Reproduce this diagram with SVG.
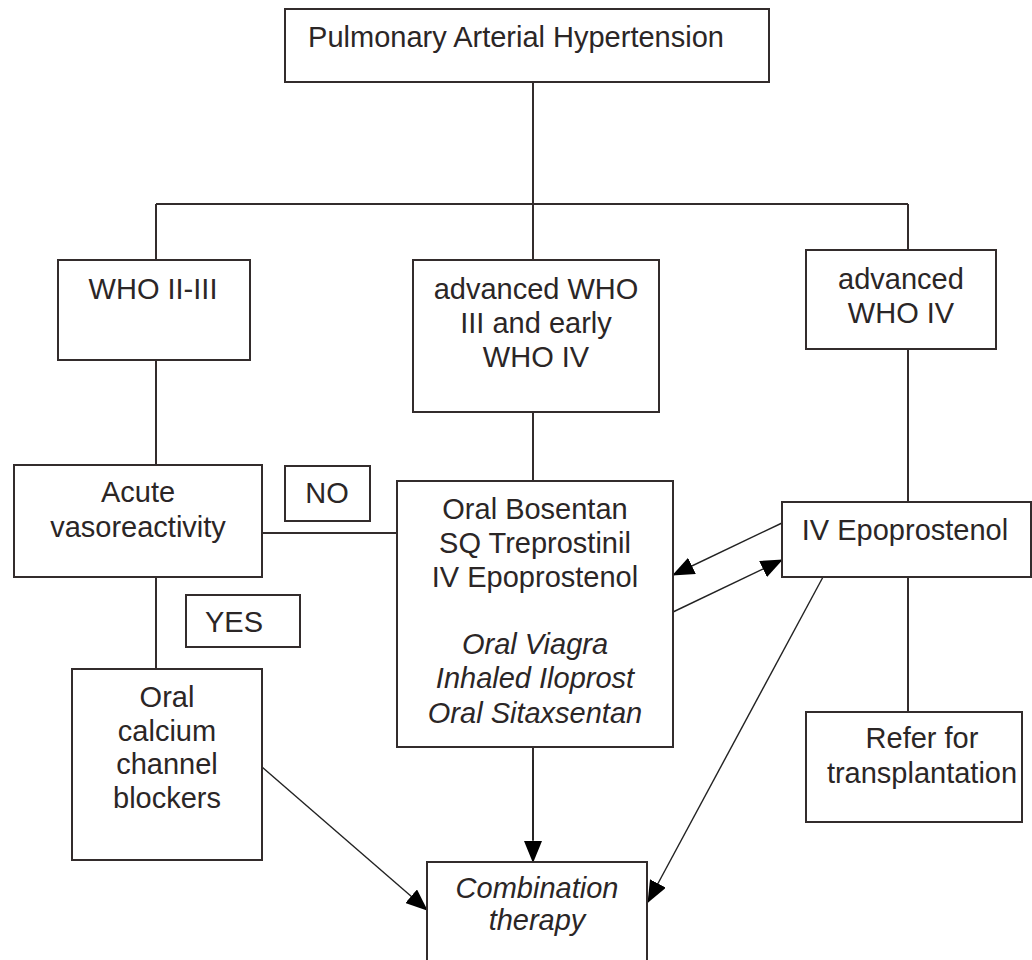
<svg xmlns="http://www.w3.org/2000/svg" width="1032" height="960" viewBox="0 0 1032 960">
<defs>
<style>
.box{fill:#fff;stroke:#332c2c;stroke-width:2}
.ln{fill:none;stroke:#332c2c;stroke-width:2}
.ar{fill:none;stroke:#222;stroke-width:1.4}
text{font-family:"Liberation Sans",Arial,sans-serif;font-size:29px;fill:#2b2626;text-anchor:middle}
.it{font-style:italic}
</style>
<marker id="ah" markerUnits="userSpaceOnUse" markerWidth="22" markerHeight="18" viewBox="0 0 22 18" refX="21" refY="9" orient="auto">
<path d="M0,0 L22,9 L0,18 Z" fill="#000"/>
</marker>
</defs>
<rect width="1032" height="960" fill="#fff"/>
<g id="connectors">
<path class="ln" d="M533,82 V204 M156,204 H908 M156,204 V260 M533,204 V260 M908,204 V250"/>
<path class="ln" d="M156,360 V465 M533,412 V481 M908,349 V502"/>
<path class="ln" d="M262,533 H397 M156,577 V669 M908,577 V712"/>
<path class="ln" d="M533,747 V840" />
<path class="ar" d="M533,760 V862" marker-end="url(#ah)"/>
<path class="ar" d="M782,523 L673,575" marker-end="url(#ah)"/>
<path class="ar" d="M673,612 L782,560" marker-end="url(#ah)"/>
<path class="ar" d="M262,767 L427,910" marker-end="url(#ah)"/>
<path class="ar" d="M823,577 L648,902" marker-end="url(#ah)"/>
</g>
<g id="n-pah"><rect class="box" x="285" y="9" width="484" height="73"/><text x="516" y="47">Pulmonary Arterial Hypertension</text></g>
<g id="n-who23"><rect class="box" x="58" y="260" width="192" height="100"/><text x="153" y="299">WHO II-III</text></g>
<g id="n-who34"><rect class="box" x="413" y="260" width="246" height="152"/><text x="536" y="299">advanced WHO</text><text x="536" y="333">III and early</text><text x="536" y="367">WHO IV</text></g>
<g id="n-who4"><rect class="box" x="806" y="250" width="190" height="99"/><text x="901" y="289">advanced</text><text x="901" y="323">WHO IV</text></g>
<g id="n-acute"><rect class="box" x="14" y="465" width="248" height="112"/><text x="138" y="502">Acute</text><text x="138" y="537">vasoreactivity</text></g>
<g id="n-no"><rect class="box" x="285" y="466" width="85" height="55"/><text x="327" y="503">NO</text></g>
<g id="n-yes"><rect class="box" x="186" y="595" width="114" height="52"/><text x="234" y="632">YES</text></g>
<g id="n-drugs"><rect class="box" x="397" y="481" width="276" height="266"/>
<text x="535" y="519">Oral Bosentan</text><text x="535" y="553">SQ Treprostinil</text><text x="535" y="587">IV Epoprostenol</text>
<text class="it" x="535" y="654">Oral Viagra</text><text class="it" x="535" y="688">Inhaled Iloprost</text><text class="it" x="535" y="723">Oral Sitaxsentan</text></g>
<g id="n-ivepo"><rect class="box" x="782" y="502" width="249" height="75"/><text x="905" y="540">IV Epoprostenol</text></g>
<g id="n-ccb"><rect class="box" x="72" y="669" width="190" height="191"/><text x="167" y="707">Oral</text><text x="167" y="741">calcium</text><text x="167" y="774">channel</text><text x="167" y="808">blockers</text></g>
<g id="n-refer"><rect class="box" x="806" y="712" width="216" height="110"/><text x="922" y="748">Refer for</text><text x="922" y="783">transplantation</text></g>
<g id="n-combo"><rect class="box" x="427" y="862" width="220" height="110"/><text class="it" x="537" y="898">Combination</text><text class="it" x="537" y="930">therapy</text></g>
</svg>
